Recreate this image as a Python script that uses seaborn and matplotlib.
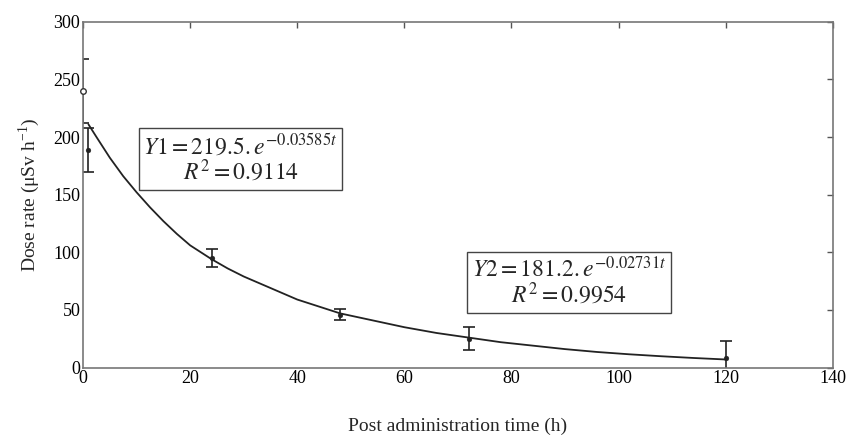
import numpy as np
import pandas as pd
import matplotlib
matplotlib.use("Agg")
import matplotlib.pyplot as plt
import seaborn as sns

time_h = [0, 1, 24, 48, 72, 120]
dose = [240, 189, 95, 46, 25, 8]
dose_err = [28, 19, 8, 5, 10, 15]

# fitted curve
curve_t = [1, 2.5, 5, 7.5, 10, 12.5, 15, 17.5, 20, 24, 27, 30, 35, 40, 44, 48,
           54, 60, 66, 72, 78, 84, 90, 96, 102, 108, 114, 120]
curve_y = [211, 200, 182, 166, 152, 139, 127, 116, 106, 94, 86, 79, 69, 59, 53, 47,
           41, 35, 30, 26, 22, 19, 16, 13.5, 11.5, 9.8, 8.3, 7]

eq1 = r"$Y1 = 219.5.e^{-0.03585t}$" + "\n" + r"$R^2 = 0.9114$"
eq2 = r"$Y2 = 181.2.e^{-0.02731t}$" + "\n" + r"$R^2 = 0.9954$"

sns.set_style("white")
plt.rcParams['font.family'] = ['Liberation Serif', 'DejaVu Serif']
plt.rcParams['mathtext.fontset'] = 'stix'

df_pts = pd.DataFrame({'t': time_h, 'dose': dose, 'err': dose_err})
df_curve = pd.DataFrame({'t': curve_t, 'y': curve_y})

fig = plt.figure(figsize=(8.48, 4.36), dpi=100)
ax = fig.add_axes([0.098, 0.157, 0.884, 0.793])

sns.lineplot(data=df_curve, x='t', y='y', color='#222222', linewidth=1.3, ax=ax)
ax.errorbar(df_pts['t'], df_pts['dose'], yerr=df_pts['err'], fmt='none',
            ecolor='#222222', elinewidth=1.2, capsize=4, capthick=1.2)
sns.scatterplot(data=df_pts.iloc[1:], x='t', y='dose', color='#222222',
                s=12, edgecolor='#222222', ax=ax, zorder=3)
ax.scatter(df_pts['t'][:1], df_pts['dose'][:1], s=16, facecolor='white',
           edgecolor='#333333', linewidth=1, zorder=4, clip_on=False)

ax.set_xlim(0, 140)
ax.set_ylim(0, 300)
ax.set_xticks(range(0, 141, 20))
ax.set_yticks(range(0, 301, 50))
ax.tick_params(direction='in', top=True, right=True, length=4, width=1,
               colors='#555555', labelcolor='black', labelsize=13, pad=2)
for s in ax.spines.values():
    s.set_color('#777777')
    s.set_linewidth(1.2)

ax.set_xlabel('Post administration time (h)', fontsize=14, labelpad=22)
ax.set_ylabel(r'Dose rate (μSv h$^{\mathregular{-1}}$)', fontsize=14, labelpad=8)

box = dict(boxstyle='square,pad=0.2', facecolor='white', edgecolor='#444444', linewidth=1)
ax.text(29.4, 181, eq1, ha='center', va='center', fontsize=17,
        linespacing=1.0, bbox=box, multialignment='center')
ax.text(90.8, 74, eq2, ha='center', va='center', fontsize=17,
        linespacing=1.0, bbox=box, multialignment='center')

plt.savefig('out.png', dpi=100)
plt.close()
